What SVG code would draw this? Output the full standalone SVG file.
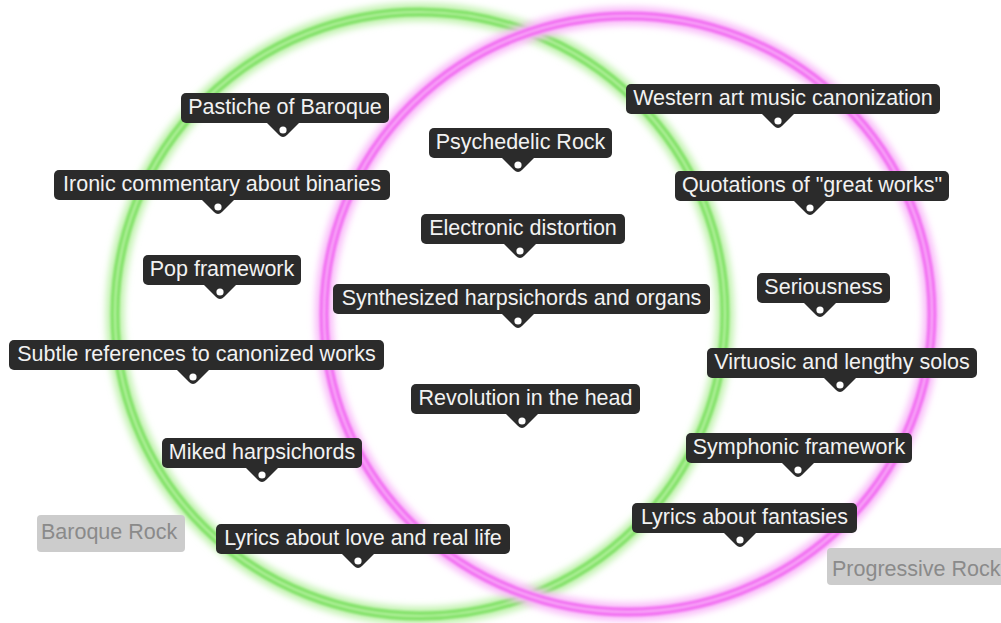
<svg xmlns="http://www.w3.org/2000/svg" xmlns:xlink="http://www.w3.org/1999/xlink" width="1001" height="623" viewBox="0 0 1001 623">
<defs>
<filter id="glow" x="-10%" y="-10%" width="120%" height="120%"><feGaussianBlur stdDeviation="3.5"/></filter>
<filter id="soft" x="-10%" y="-10%" width="120%" height="120%"><feGaussianBlur stdDeviation="0.8"/></filter>
<g id="ptr"><path d="M-17,-1 L17,-1 L4,12 Q0,16 -4,12 Z" fill="#2b2b2b"/><circle cx="0" cy="7" r="3.6" fill="#ffffff"/></g>
</defs>
<style>
.lbl rect{fill:#2b2b2b}
.lbl text{font-family:"Liberation Sans",Arial,sans-serif;font-size:21.5px;fill:#f2f2f2;text-anchor:middle}
.set rect{fill:#cccccc}
.set text{font-family:"Liberation Sans",Arial,sans-serif;font-size:21.5px;fill:#8a8a8a}
</style>
<rect width="1001" height="623" fill="#ffffff"/>
<g id="rings" fill="none">
<g id="ring-baroque">
<ellipse cx="420" cy="314" rx="305" ry="302" stroke="#bff2ac" stroke-width="18" filter="url(#glow)"/>
<ellipse cx="420" cy="314" rx="305" ry="302" stroke="#84e26a" stroke-width="9" filter="url(#soft)"/>
<ellipse cx="420" cy="314" rx="305" ry="302" stroke="#b6f2a0" stroke-width="2.2" filter="url(#soft)"/>
</g>
<g id="ring-prog">
<ellipse cx="628" cy="314" rx="304" ry="298" stroke="#f9baf9" stroke-width="18" filter="url(#glow)"/>
<ellipse cx="628" cy="314" rx="304" ry="298" stroke="#f272f2" stroke-width="9" filter="url(#soft)"/>
<ellipse cx="628" cy="314" rx="304" ry="298" stroke="#f9aef9" stroke-width="2.2" filter="url(#soft)"/>
</g>
</g>
<g id="set-labels">
<g id="set-baroque" class="set"><rect x="37" y="515" width="148" height="37" rx="4"/><text x="41" y="539">Baroque Rock</text></g>
<g id="set-prog" class="set"><rect x="827" y="548" width="180" height="37" rx="4"/><text x="832" y="576">Progressive Rock</text></g>
</g>
<g id="nodes">
<g id="n1" class="lbl"><rect x="181" y="93" width="208" height="30" rx="5"/><use xlink:href="#ptr" x="283" y="123"/><text x="285" y="114">Pastiche of Baroque</text></g>
<g id="n2" class="lbl"><rect x="429" y="128" width="183" height="30" rx="5"/><use xlink:href="#ptr" x="518" y="158"/><text x="520.5" y="149">Psychedelic Rock</text></g>
<g id="n3" class="lbl"><rect x="626" y="84" width="314" height="30" rx="5"/><use xlink:href="#ptr" x="778" y="114"/><text x="783" y="105">Western art music canonization</text></g>
<g id="n4" class="lbl"><rect x="54" y="170" width="336" height="30" rx="5"/><use xlink:href="#ptr" x="218" y="200"/><text x="222" y="191">Ironic commentary about binaries</text></g>
<g id="n5" class="lbl"><rect x="675" y="171" width="274" height="30" rx="5"/><use xlink:href="#ptr" x="810" y="201"/><text x="812" y="192">Quotations of "great works"</text></g>
<g id="n6" class="lbl"><rect x="421" y="214" width="204" height="30" rx="5"/><use xlink:href="#ptr" x="520" y="244"/><text x="523" y="235">Electronic distortion</text></g>
<g id="n7" class="lbl"><rect x="143" y="255" width="158" height="30" rx="5"/><use xlink:href="#ptr" x="220" y="285"/><text x="222" y="276">Pop framework</text></g>
<g id="n8" class="lbl"><rect x="333" y="284" width="377" height="30" rx="5"/><use xlink:href="#ptr" x="518" y="314"/><text x="521.5" y="305">Synthesized harpsichords and organs</text></g>
<g id="n9" class="lbl"><rect x="757" y="273" width="133" height="30" rx="5"/><use xlink:href="#ptr" x="820" y="303"/><text x="823.5" y="294">Seriousness</text></g>
<g id="n10" class="lbl"><rect x="9" y="340" width="375" height="30" rx="5"/><use xlink:href="#ptr" x="193" y="370"/><text x="196.5" y="361">Subtle references to canonized works</text></g>
<g id="n11" class="lbl"><rect x="707" y="348" width="270" height="30" rx="5"/><use xlink:href="#ptr" x="840" y="378"/><text x="842" y="369">Virtuosic and lengthy solos</text></g>
<g id="n12" class="lbl"><rect x="411" y="384" width="229" height="30" rx="5"/><use xlink:href="#ptr" x="522" y="414"/><text x="525.5" y="405">Revolution in the head</text></g>
<g id="n13" class="lbl"><rect x="162" y="438" width="200" height="30" rx="5"/><use xlink:href="#ptr" x="262" y="468"/><text x="262" y="459">Miked harpsichords</text></g>
<g id="n14" class="lbl"><rect x="686" y="433" width="226" height="30" rx="5"/><use xlink:href="#ptr" x="798" y="463"/><text x="799" y="454">Symphonic framework</text></g>
<g id="n15" class="lbl"><rect x="632" y="503" width="225" height="30" rx="5"/><use xlink:href="#ptr" x="740" y="533"/><text x="744.5" y="524">Lyrics about fantasies</text></g>
<g id="n16" class="lbl"><rect x="216" y="524" width="294" height="30" rx="5"/><use xlink:href="#ptr" x="358" y="554"/><text x="363" y="545">Lyrics about love and real life</text></g>
</g>
</svg>
